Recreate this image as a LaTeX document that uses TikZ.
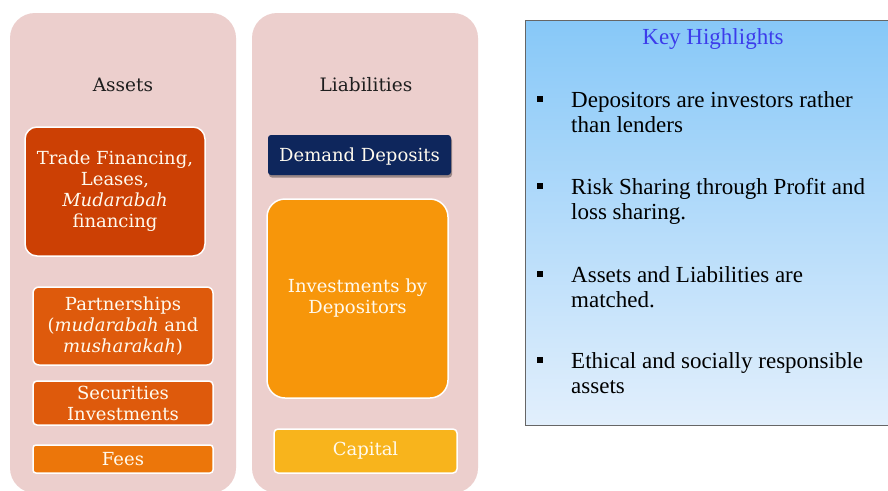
\documentclass[tikz,border=0pt]{standalone}
\usepackage{fontspec}
\setmainfont{Liberation Serif}
\newfontfamily\geo{DejaVu Serif}
\usetikzlibrary{shadows}
\definecolor{panelpink}{RGB}{236,207,205}
\definecolor{boxA}{RGB}{204,64,4}
\definecolor{boxB}{RGB}{222,90,12}
\definecolor{boxD}{RGB}{236,118,10}
\definecolor{navy}{RGB}{14,38,92}
\definecolor{invor}{RGB}{247,150,10}
\definecolor{capyel}{RGB}{248,180,28}
\definecolor{skytop}{RGB}{135,200,248}
\definecolor{skybot}{RGB}{226,239,252}
\definecolor{khblue}{RGB}{60,60,235}
\definecolor{creamtxt}{RGB}{255,250,238}
\definecolor{hdrtxt}{RGB}{30,30,30}
\tikzset{
  panel/.style={fill=panelpink, draw=none, rounded corners=25pt, minimum width=226pt, minimum height=480pt, inner sep=0pt},
  hdr/.style={font=\geo\fontsize{18.5}{21}\selectfont, text=hdrtxt, inner sep=0pt},
  abox/.style={draw=white, line width=1.5pt, text=creamtxt, align=center, inner sep=0pt,
    font=\geo\fontsize{18}{21}\selectfont},
  item/.style={font=\fontsize{23}{25}\selectfont, align=left, inner sep=0pt, anchor=base west},
  bulletsq/.style={fill=black, draw=none, minimum size=6pt, inner sep=0pt},
}
\begin{document}
\begin{tikzpicture}[x=1pt,y=-1pt]
\useasboundingbox[fill=white] (0,0) rectangle (888,490);
% panels
\node[panel] (assetpanel) at (123,253) {};
\node[panel] (liabpanel) at (365,253) {};
\node[hdr] (assets) at (123,85) {Assets};
\node[hdr] (liab) at (366,85) {Liabilities};
% asset boxes
\node[abox, fill=boxA, rounded corners=12pt, minimum width=180pt, minimum height=129pt] (trade) at (115,191.5)
  {Trade Financing,\\Leases,\\\textit{Mudarabah}\\financing};
\node[abox, fill=boxB, rounded corners=6pt, minimum width=180pt, minimum height=78pt] (partner) at (123,326)
  {Partnerships\\(\textit{mudarabah} and\\\textit{musharakah})};
\node[abox, fill=boxB, rounded corners=4pt, minimum width=180pt, minimum height=44pt] (secur) at (123,403)
  {Securities\\Investments};
\node[abox, fill=boxD, rounded corners=3pt, minimum width=180pt, minimum height=28pt] (fees) at (123,459)
  {Fees};
% liability boxes
\node[abox, draw=none, fill=navy, rounded corners=3pt, minimum width=183pt, minimum height=40pt,
  text depth=1pt, text height=13pt,
  drop shadow={shadow xshift=1pt, shadow yshift=-2.5pt, fill=black, opacity=0.35}] (demand) at (359.5,155)
  {Demand Deposits};
\node[abox, fill=invor, rounded corners=18pt, minimum width=181pt, minimum height=199pt] (invest) at (357.5,298.5)
  {Investments by\\Depositors};
\node[abox, fill=capyel, rounded corners=4pt, minimum width=183pt, minimum height=44pt] (capital) at (365.5,451)
  {Capital};
% key highlights
\node[draw=black!60, line width=0.8pt, top color=skytop, bottom color=skybot, minimum width=367pt, minimum height=405pt, inner sep=0pt] (keybox) at (708.5,222.5) {};
\node[font=\fontsize{23}{25}\selectfont, text=khblue, inner sep=0pt] (keytitle) at (713,39) {Key Highlights};
\node[bulletsq] (b1) at (540,99) {};
\node[bulletsq] (b2) at (540,186) {};
\node[bulletsq] (b3) at (540,274) {};
\node[bulletsq] (b4) at (540,360) {};
\node[item] (t1) at (571,132) {Depositors are investors rather\\than lenders};
\node[item] (t2) at (571,219) {Risk Sharing through Profit and\\loss sharing.};
\node[item] (t3) at (571,307) {Assets and Liabilities are\\matched.};
\node[item] (t4) at (571,393) {Ethical and socially responsible\\assets};
\end{tikzpicture}
\end{document}
